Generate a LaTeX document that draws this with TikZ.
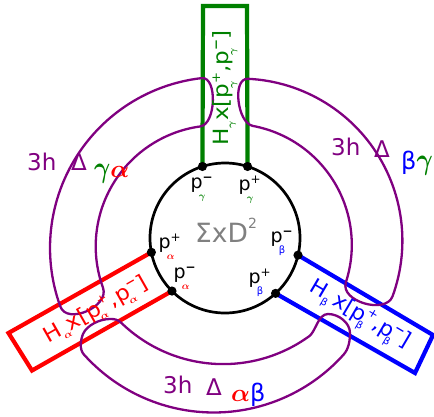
\documentclass[tikz,border=0pt]{standalone}
\usepackage{fontspec}
\setmainfont{DejaVu Sans}
\usepackage{amsmath}
\usepackage{graphicx}
\usetikzlibrary{calc}
\definecolor{pur}{RGB}{128,0,128}
\definecolor{grn}{RGB}{0,128,0}
\definecolor{gry}{RGB}{128,128,128}
\newcommand{\Hs}[1]{H\raisebox{-0.25em}{\fontsize{10}{10}\selectfont #1}}
\newcommand{\rp}[2]{p\rlap{\hspace{-0.2em}\raisebox{-0.32em}{\fontsize{10}{10}\selectfont #2}}\raisebox{0.42em}{\fontsize{12}{12}\selectfont #1}}
\newcommand{\plab}[3]{p\rlap{\hspace{-0.2em}\raisebox{-0.6em}{\fontsize{10}{10}\selectfont\color{#3}#2}}\raisebox{0.36em}{\fontsize{12}{12}\selectfont #1}}
\newcommand{\mn}{\textbf{−}}
\newcommand{\gm}{\(\boldsymbol{\gamma}\)}
\newcommand{\al}{\(\boldsymbol{\alpha}\)}
\begin{document}
\begin{tikzpicture}[x=1pt,y=-1pt,
  band/.style={draw=pur, line width=2.3pt, line join=round},
  rct/.style={line width=4.2pt, line join=miter},
  dotm/.style={fill=black},
  lab/.style={font=\fontsize{23}{23}\selectfont, text=pur, inner sep=0pt, anchor=base west},
  greek/.style={font=\fontsize{30}{30}\selectfont, inner sep=0pt, anchor=base west},
  plb/.style={font=\fontsize{19}{19}\selectfont, inner sep=0pt, anchor=base west},
  rtext/.style={font=\fontsize{21}{21}\selectfont, inner sep=0pt, anchor=center}]
\useasboundingbox (0,0) rectangle (434,416);
\coordinate (C) at (225,238);
% dots on circle
\coordinate (gm) at ($(C)+(107.5:75pt)$);
\coordinate (gp) at ($(C)+(72.5:75pt)$);
\coordinate (ap) at ($(C)+(191:75pt)$);
\coordinate (am) at ($(C)+(225:75pt)$);
\coordinate (bm) at ($(C)+(346.8:75pt)$);
\coordinate (bp) at ($(C)+(312.4:75pt)$);
% far corners
\coordinate (g1) at (203,6);
\coordinate (g2) at (247,6);
\coordinate (a1) at (8.5,333);
\coordinate (a2) at (32,370.5);
\coordinate (b1) at (433,335);
\coordinate (b2) at (415,373);
% central circle
\draw[line width=2.7pt] (C) circle (75pt);
% rectangles
\draw[rct, draw=grn] (gm) -- (g1) -- (g2) -- (gp);
\draw[rct, draw=red] (ap) -- (a1) -- (a2) -- (am);
\draw[rct, draw=blue] (bm) -- (b1) -- (b2) -- (bp);
% purple bands
\draw[band] plot[domain=96.5:200, samples=60] ({221+171*cos(\x)},{248-171*sin(\x)})
  .. controls (67.1,325.3) and (109.8,306.5) .. (103,287.7)
  -- plot[domain=200:97.8, samples=60] ({216.7+121*cos(\x)},{246.3-121*sin(\x)})
  .. controls (216.2,124.2) and (217.5,76.3) .. (201.6,78.1) -- cycle;
\draw[band] plot[domain=87.3:-20, samples=60] ({240.3+162.1*cos(\x)},{240.7-162.1*sin(\x)})
  .. controls (385.8,314.9) and (339.7,301.3) .. (345.9,282.3)
  -- plot[domain=-18:79.5, samples=60] ({230.8+121*cos(\x)},{244.9-121*sin(\x)})
  .. controls (237.2,123) and (231.9,78) .. (247.9,78.8) -- cycle;
\draw[band] plot[domain=222:318, samples=60] ({213.8+174.5*cos(\x)},{238-174.5*sin(\x)})
  .. controls (348.9,348.9) and (350,340) .. (350,333)
  .. controls (350,323) and (339,314) .. (328,314)
  .. controls (318,314) and (315.8,331.4) .. (309.3,336.1)
  -- plot[domain=306:226, samples=60] ({223.2+146.5*cos(\x)},{217.6-146.5*sin(\x)})
  .. controls (117.8,319.5) and (115,319) .. (110,319)
  .. controls (100,319) and (87,325) .. (83,334)
  .. controls (81,339) and (78.7,348.9) .. (84.1,354.8) -- cycle;
% dots
\foreach \d in {gm,gp,ap,am,bm,bp} \fill[dotm] (\d) circle (4.6pt);
% central text
\node[font=\fontsize{26.5}{26.5}\selectfont, text=gry, inner sep=0pt, anchor=base west] (sig) at (195,242) {ΣxD\raisebox{14pt}{\fontsize{14}{14}\selectfont 2}};
% p labels
\node[plb] (lgm) at (190.3,188.5) {\plab{\mn}{\gm}{grn}};
\node[plb] (lgp) at (238.3,190.5) {\plab{+}{\gm}{grn}};
\node[plb] (lap) at (158.3,248.5) {\plab{+}{\al}{red}};
\node[plb] (lam) at (173.3,278.5) {\plab{\mn}{\al}{red}};
\node[plb] (lbm) at (270.3,242.5) {\plab{\mn}{β}{blue}};
\node[plb] (lbp) at (248.3,283.5) {\plab{+}{β}{blue}};
% rectangle texts
\node[rtext, text=grn, rotate=90] (tg) at ($(C)+(90:150pt)$) {\scalebox{1.1}[1]{\Hs{\gm}x[\rp{+}{\gm},\rp{\mn}{\gm}]}};
\node[rtext, text=red, rotate=29.6] (ta) at ($(C)+(209.6:148pt)$) {\scalebox{1.1}[1]{\Hs{\al}x[\rp{+}{\al},\rp{\mn}{\al}]}};
\node[rtext, text=blue, rotate=-30.5] (tb) at ($(C)+(-30.3:155pt)$) {\scalebox{1.05}[1]{\Hs{β}\,x[\rp{+}{β},\rp{\mn}{β}]}};
% band labels
\node[lab] (h1) at (27,170) {3h};
\node[lab] (D1) at (71,170) {Δ};
\node[greek] (G1) at (94,177) {{\color{grn}\scalebox{1}[1.2]{\(\boldsymbol{\gamma}\)}}{\color{red}\(\boldsymbol{\alpha}\)}};
\node[lab] (h2) at (331,155) {3h};
\node[lab] (D2) at (374,157) {Δ};
\node[greek] (G2) at (401,169) {{\color{blue}\fontsize{24}{24}\selectfont β}{\color{grn}\scalebox{1}[1.2]{\(\boldsymbol{\gamma}\)}}};
\node[lab] (h3) at (163,393) {3h};
\node[lab] (D3) at (206,395) {Δ};
\node[greek] (G3) at (231,401) {{\color{red}\(\boldsymbol{\alpha}\)}{\color{blue}\fontsize{24}{24}\selectfont β}};
\end{tikzpicture}
\end{document}
